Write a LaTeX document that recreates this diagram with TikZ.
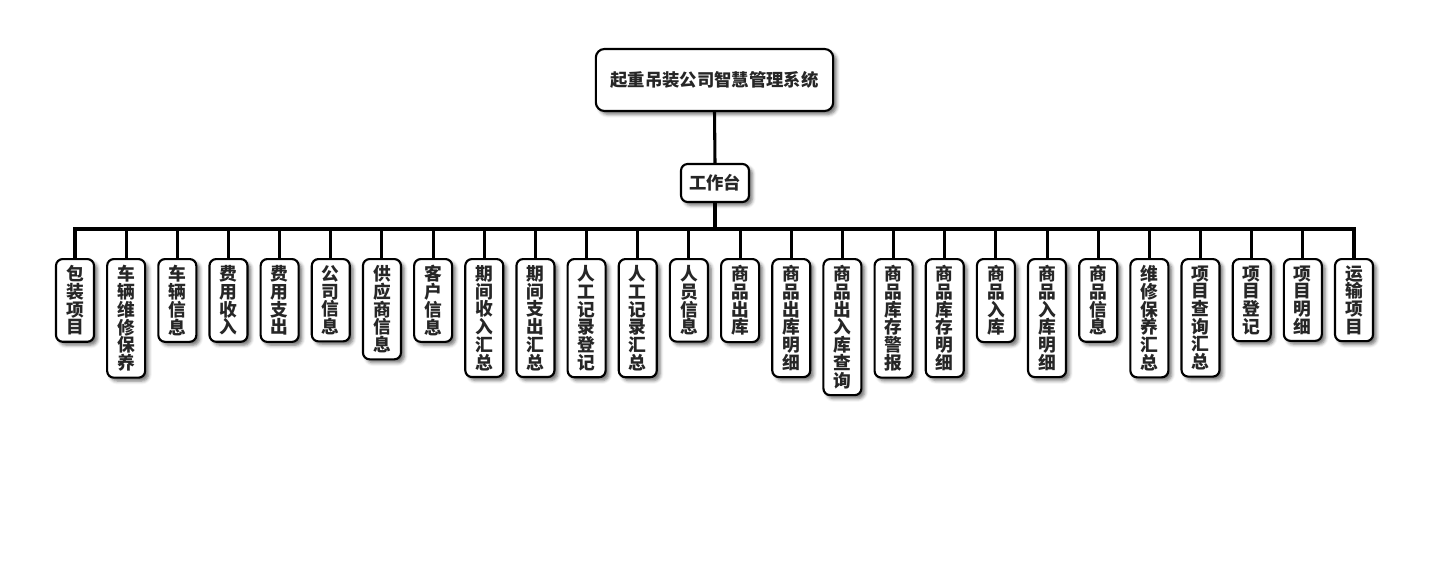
\documentclass[tikz,border=0pt]{standalone}
\usepackage{fontspec}
\newfontfamily\cjk{Noto Sans CJK SC}
\usetikzlibrary{shadows.blur}
\begin{document}
\begin{tikzpicture}[x=0.75pt,y=-0.75pt,
  box/.style={draw=black,line width=1.6pt,fill=white,rounded corners=5pt,
    blur shadow={shadow xshift=2.5pt,shadow yshift=-2.5pt,shadow blur radius=2.5pt,shadow opacity=55},
    text=black!85},
  rootbox/.style={box,rounded corners=6.5pt,minimum width=178pt,minimum height=46.5pt,
    font=\cjk\bfseries\fontsize{13}{15}\selectfont},
  midbox/.style={box,minimum width=51pt,minimum height=28.5pt,inner sep=1pt,
    font=\cjk\bfseries\fontsize{13}{15}\selectfont},
  leafbox/.style={box,anchor=north,minimum width=28.5pt,inner xsep=1pt,inner ysep=4.8pt,
    align=center,font=\cjk\bfseries\fontsize{13.3}{13.3}\selectfont},
  conn/.style={line width=2.3pt,black}]
\useasboundingbox (0,0) rectangle (1430,560);
\node[rootbox] (root) at (714.5,80) {起重吊装公司智慧管理系统};
\node[midbox] (mid) at (715,183) {工作台};
\coordinate (hub) at (715,229);
\foreach \t [count=\n from 0] in {
  {包\\装\\项\\目},{车\\辆\\维\\修\\保\\养},{车\\辆\\信\\息},{费\\用\\收\\入},
  {费\\用\\支\\出},{公\\司\\信\\息},{供\\应\\商\\信\\息},{客\\户\\信\\息},
  {期\\间\\收\\入\\汇\\总},{期\\间\\支\\出\\汇\\总},{人\\工\\记\\录\\登\\记},
  {人\\工\\记\\录\\汇\\总},{人\\员\\信\\息},{商\\品\\出\\库},{商\\品\\出\\库\\明\\细},
  {商\\品\\出\\入\\库\\查\\询},{商\\品\\库\\存\\警\\报},{商\\品\\库\\存\\明\\细},
  {商\\品\\入\\库},{商\\品\\入\\库\\明\\细},{商\\品\\信\\息},{维\\修\\保\\养\\汇\\总},
  {项\\目\\查\\询\\汇\\总},{项\\目\\登\\记},{项\\目\\明\\细},{运\\输\\项\\目}}{
  \pgfmathsetmacro{\xx}{75+51.16*\n}
  \coordinate (b\n) at (\xx,229);
  \node[leafbox] (leaf\n) at (\xx,258) {\t};
  \draw[conn] (b\n) -- (leaf\n.north);
}
\draw[conn,line cap=rect] (b0) -- (b25);
\draw[conn] (root.south) -- (mid.north);
\draw[conn] (mid.south) -- (hub);
\end{tikzpicture}
\end{document}
